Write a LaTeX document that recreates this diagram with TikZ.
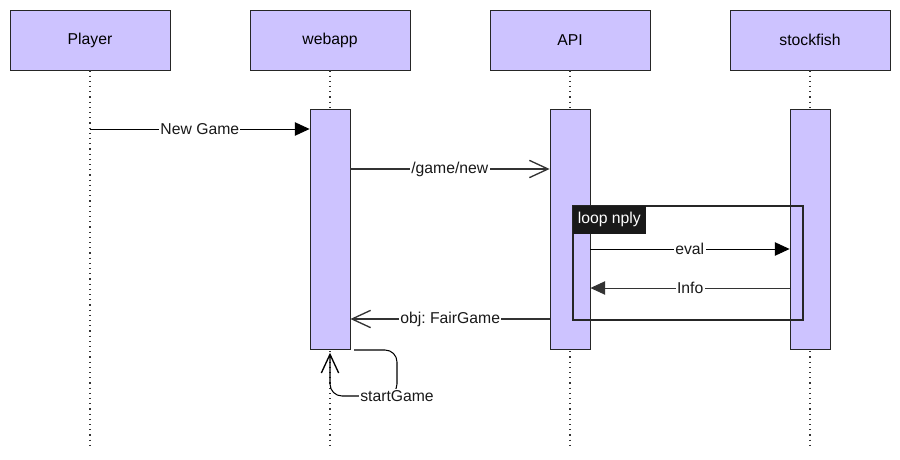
\documentclass[tikz,border=0pt]{standalone}
\usepackage{fontspec}
\setmainfont{Liberation Sans}
\usetikzlibrary{arrows.meta}
\definecolor{actorfill}{RGB}{205,195,255}
\definecolor{edgegray}{RGB}{51,51,51}
\frenchspacing

\begin{document}
\begin{tikzpicture}[x=0.75pt, y=-0.75pt,
    every node/.style={font=\fontsize{11.8}{14}\selectfont},
    actor/.style={draw=black!85, fill=actorfill, line width=0.6pt,
      minimum width=120pt, minimum height=45pt, inner sep=0pt},
    activ/.style={draw=black!85, fill=actorfill, line width=0.6pt,
      minimum width=30pt, minimum height=180pt, inner sep=0pt},
    life/.style={draw=edgegray, line width=0.8pt, dash pattern=on 0.9pt off 3pt},
    msgsync/.style={draw=black, line width=0.7pt, -{Triangle[length=11pt,width=10pt]}},
    msgasync/.style={draw=edgegray, line width=1pt,
      -{Straight Barb[length=14pt,width=13pt,line width=1pt]}},
    msglabel/.style={fill=white, inner sep=1pt, text=black!90},
    looptag/.style={fill=black!90, draw=black!90, text=white,
      minimum width=54pt, minimum height=20pt, inner sep=0pt}]

    \useasboundingbox (0,0) rectangle (900,460);

    \foreach \name/\x/\txt in {player/90/Player, webapp/330/webapp,
        api/570/API, stockfish/810/stockfish} {
      \node [actor] (\name) at (\x, 40) {\txt};
      \coordinate (\name end) at (\x, 445);
      \draw [life] (\name.south) -- (\name end);
    }

    \node [activ] (actW) at (330, 229) {};
    \node [activ] (actA) at (570, 229) {};
    \node [activ] (actS) at (810, 229) {};

    \coordinate (newgame) at (90, 129);
    \draw [msgsync] (newgame) -- (newgame -| actW.west)
      node [msglabel, midway] {New Game};

    \coordinate (gamenew) at (350, 169);
    \draw [msgasync] (gamenew) -- (gamenew -| actA.west)
      node [msglabel, midway] {/game/new};

    \coordinate (loopNW) at (573, 206);
    \coordinate (loopSE) at (803, 320);
    \draw [draw=black!85, line width=1pt] (loopNW) rectangle (loopSE);
    \node [looptag, anchor=north west] (loop) at (loopNW) {loop nply};

    \coordinate (eval) at (590, 249);
    \draw [msgsync] (eval) -- (eval -| actS.west)
      node [msglabel, midway] {eval};

    \coordinate (info) at (790, 288);
    \draw [msgsync, draw=edgegray] (info) -- (info -| actA.east)
      node [msglabel, midway] {Info};

    \coordinate (fairgame) at (550, 319);
    \draw [msgasync] (fairgame) -- (fairgame -| actW.east)
      node [msglabel, midway] {obj: FairGame};

    \coordinate (selfstart) at (354, 350);
    \coordinate (selfturn) at (397, 396);
    \draw [msgasync, draw=black, line width=0.8pt, rounded corners=9pt]
      (selfstart) -- (selfstart -| selfturn) -- (selfturn)
      -- (selfturn -| actW) -- ([yshift=-2.5pt]actW.south);
    \node [msglabel] (startgame) at (selfturn) {startGame};
  \end{tikzpicture}
\end{document}
